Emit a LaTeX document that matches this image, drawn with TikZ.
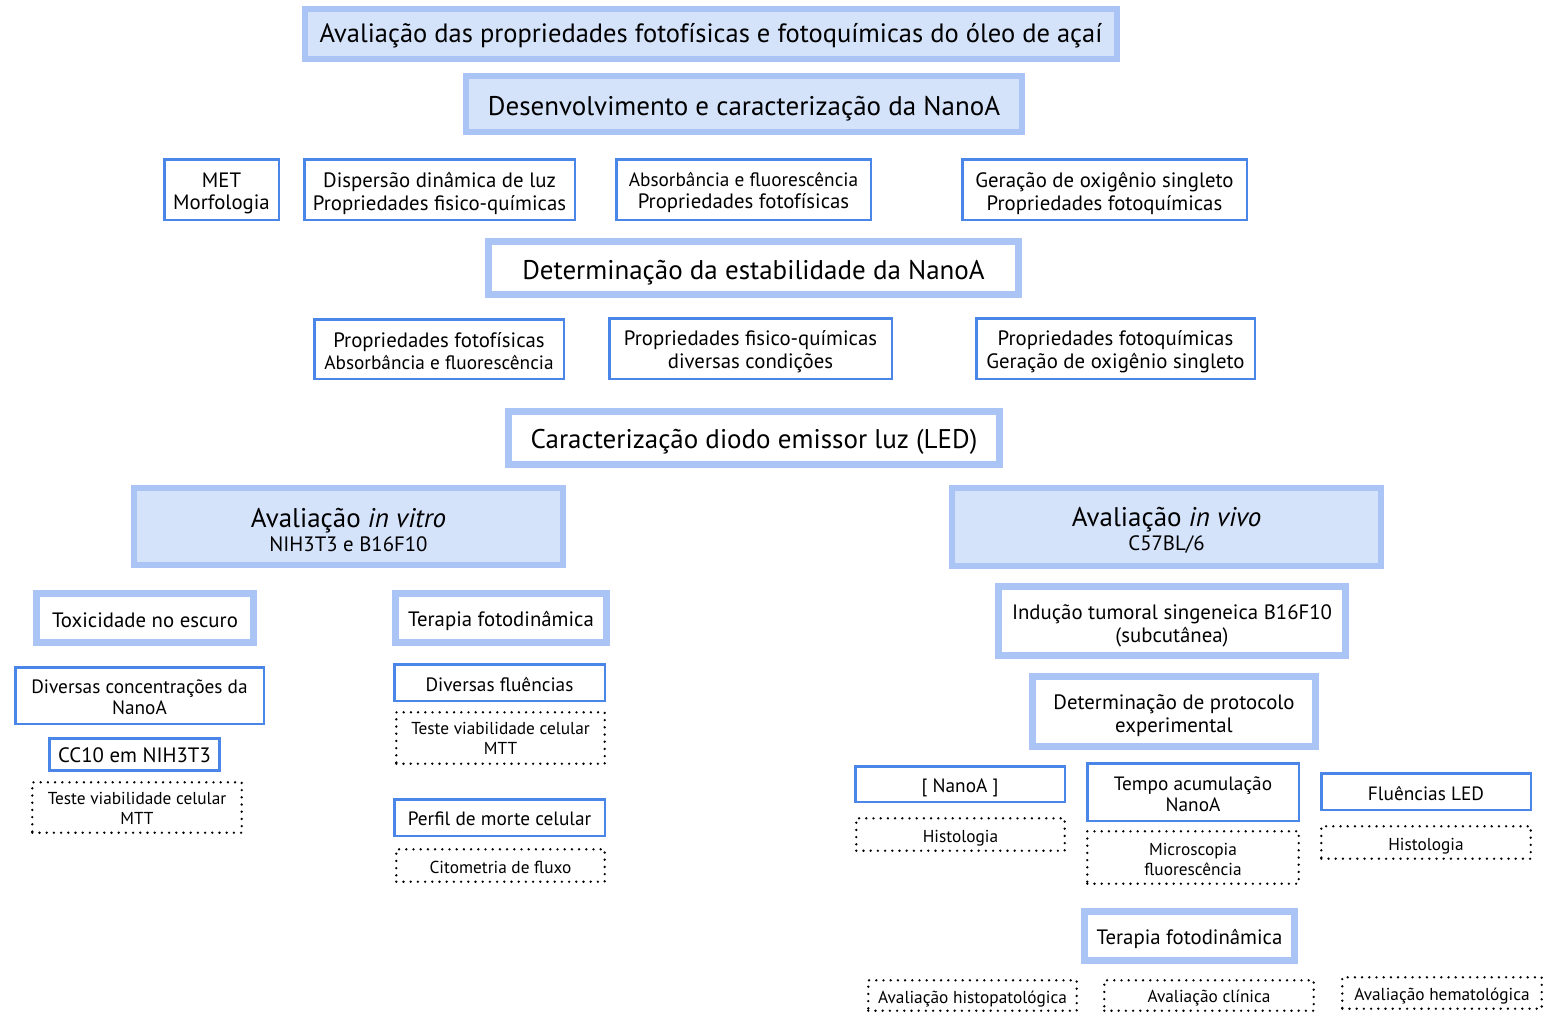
\documentclass[tikz,border=0pt]{standalone}
\usepackage{fontspec}
\setmainfont{PT Sans}
\definecolor{paleblue}{HTML}{A9C4F5}
\definecolor{fillblue}{HTML}{D4E2FA}
\definecolor{lineblue}{HTML}{4A86E8}
\newcommand\fsA{\fontsize{26.5}{30}\selectfont}
\newcommand\fsB{\fontsize{27}{30}\selectfont}
\newcommand\fsC{\fontsize{20.8}{22.5}\selectfont}
\newcommand\fsD{\fontsize{19.3}{21}\selectfont}
\newcommand\fsE{\fontsize{17.3}{20}\selectfont}
\tikzset{
  filledbox/.style={draw=paleblue, fill=fillblue, line width=6pt},
  framebox/.style={draw=paleblue, fill=white, line width=7pt},
  thinbox/.style={draw=lineblue, fill=white, line width=2.5pt},
  dotbox/.style={draw=black, line width=2.6pt, line cap=round, dash pattern=on 0pt off 7.2pt},
  boxtext/.style={inner sep=0pt, align=center},
}
% #1 style, #2 line width, #3 name, #4 x1, #5 y1, #6 x2, #7 y2, #8 text options, #9 text
\newcommand\bxg[9]{%
  \node[#1, inner sep=0pt, minimum width={#6-#4-#2}, minimum height={#7-#5-#2}]
    (#3) at ({(#4+#6)/2},{(#5+#7)/2}) {};
  \node[boxtext,#8] (#3-t) at (#3.center) {#9};}
\newcommand\bxF{\bxg{filledbox}{6}}
\newcommand\bxW{\bxg{framebox}{7}}
\newcommand\bxT{\bxg{thinbox}{2.5}}
\newcommand\bxD{\bxg{dotbox}{2.6}}
\begin{document}
\begin{tikzpicture}[x=1pt,y=-1pt]
\useasboundingbox (0,0) rectangle (1545,1013);
% top level
\bxF{title}{302}{6}{1120}{62}{font=\fsA,yshift=-2pt}{Avaliação das propriedades fotofísicas e fotoquímicas do óleo de açaí}
\bxF{desenv}{463}{73}{1025}{135}{font=\fsB,yshift=-5pt}{Desenvolvimento e caracterização da NanoA}
% characterization row
\bxT{met}{163}{158}{280}{221}{font=\fsC,yshift=-4pt}{MET\\Morfologia}
\bxT{dls}{303}{158}{576}{221}{font=\fsC,yshift=-4pt}{Dispersão dinâmica de luz\\Propriedades fisico-químicas}
\bxT{abs}{615}{158}{872}{221}{font=\fsC,yshift=-3pt}{\fsD Absorbância e fluorescência\\Propriedades fotofísicas}
\bxT{ger}{961}{158}{1248}{221}{font=\fsC,yshift=-4pt}{Geração de oxigênio singleto\\Propriedades fotoquímicas}
% stability
\bxW{estab}{485}{238}{1022}{298}{font=\fsB,yshift=-5pt}{Determinação da estabilidade da NanoA}
\bxT{pf}{313}{318}{565}{380}{font=\fsC,yshift=-2pt}{Propriedades fotofísicas\\\fsD Absorbância e fluorescência}
\bxT{pfq}{608}{317}{893}{380}{font=\fsC,yshift=-3pt}{Propriedades fisico-químicas\\diversas condições}
\bxT{pfoto}{975}{317}{1256}{380}{font=\fsC,yshift=-3pt}{Propriedades fotoquímicas\\Geração de oxigênio singleto}
% LED
\bxW{led}{505}{408}{1003}{468}{font=\fsB,yshift=-4pt}{Caracterização diodo emissor luz (LED)}
% in vitro
\bxF{vitro}{131}{485}{566}{568}{font=\fsB,yshift=-3pt}{Avaliação \textit{in vitro}\\[-6pt]\fsC NIH3T3 e B16F10}
\bxW{tox}{33}{590}{257}{646}{font=\fsC,yshift=-2pt}{Toxicidade no escuro}
\bxW{tfd}{392}{590}{610}{646}{font=\fsC,yshift=-3pt}{Terapia fotodinâmica}
\bxT{conc}{14}{666}{265}{725}{font=\fsD,yshift=-2pt}{Diversas concentrações da\\NanoA}
\bxg{thinbox}{3}{cc}{48}{737}{221}{772}{font=\fsC,yshift=-1pt}{CC10 em NIH3T3}
\bxD{mtta}{31}{781}{243}{834}{font=\fsE,yshift=-1pt}{Teste viabilidade celular\\MTT}
\bxT{flu}{393}{663}{606}{702}{font=\fsD,yshift=-2pt}{Diversas fluências}
\bxD{mttb}{395}{711}{606}{765}{font=\fsE}{Teste viabilidade celular\\MTT}
\bxT{perf}{393}{798}{606}{837}{font=\fsD,yshift=-1pt}{Perfil de morte celular}
\bxD{cito}{395}{848}{606}{883}{font=\fsE,yshift=-2pt}{Citometria de fluxo}
% in vivo
\bxF{vivo}{949}{485}{1384}{569}{font=\fsB,yshift=-3pt}{Avaliação \textit{in vivo}\\[-6pt]\fsC C57BL/6}
\bxW{ind}{995}{583}{1349}{659}{font=\fsC,yshift=-5pt}{Indução tumoral singeneica B16F10\\(subcutânea)}
\bxW{prot}{1029}{673}{1319}{750}{font=\fsC,yshift=-4pt}{Determinação de protocolo\\experimental}
\bxT{nano}{854}{765}{1066}{803}{font=\fsD,yshift=-4pt}{[ NanoA ]}
\bxD{hista}{855}{817}{1066}{852}{font=\fsE,yshift=-4pt}{Histologia}
\bxT{tempo}{1086}{762}{1300}{822}{font=\fsD,yshift=-2pt}{Tempo acumulação\\NanoA}
\bxD{micro}{1086}{830}{1300}{885}{font=\fsE,yshift=-2pt}{Microscopia\\fluorescência}
\bxT{fled}{1320}{772}{1532}{811}{font=\fsD,yshift=-2pt}{Fluências LED}
\bxD{histb}{1320}{825}{1532}{860}{font=\fsE,yshift=-4pt}{Histologia}
\bxW{tfdv}{1081}{908}{1298}{964}{font=\fsC,yshift=-3pt}{Terapia fotodinâmica}
\bxD{histo}{867}{979}{1078}{1012}{font=\fsE,yshift=-4pt}{Avaliação histopatológica}
\bxD{clin}{1103}{979}{1315}{1012}{font=\fsE,yshift=-3pt}{Avaliação clínica}
\bxD{hema}{1341}{976}{1543}{1010}{font=\fsE,yshift=-3pt}{Avaliação hematológica}
\end{tikzpicture}
\end{document}
